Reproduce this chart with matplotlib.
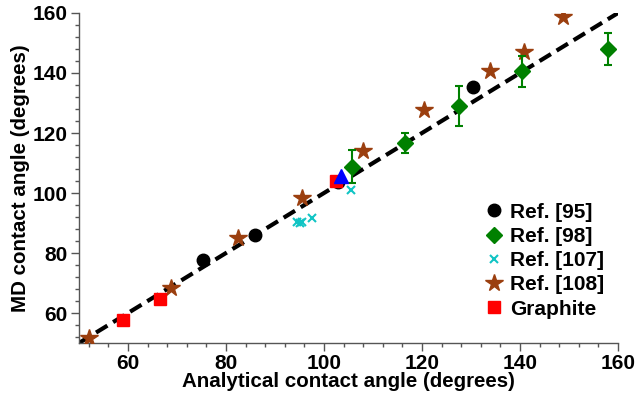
import matplotlib.pyplot as plt
from matplotlib.lines import Line2D
from matplotlib.ticker import MultipleLocator

plt.rcParams["font.family"] = ["Liberation Sans", "DejaVu Sans"]
plt.rcParams["font.weight"] = "bold"

# Data
ref95_x = [75.4, 86.0, 102.8, 130.5]
ref95_y = [77.7, 86.0, 103.8, 135.4]

ref98_x = [105.8, 116.5, 127.6, 140.5, 157.9]
ref98_y = [108.8, 116.6, 129.0, 140.6, 148.0]
ref98_err = [5.5, 3.4, 6.7, 5.2, 5.3]

ref107_x = [94.4, 95.0, 95.6, 97.5, 105.6]
ref107_y = [90.5, 90.0, 90.3, 91.6, 101.0]

ref108_x = [52.0, 68.8, 82.5, 95.5, 108.0, 120.4, 133.8, 140.9, 148.7]
ref108_y = [51.6, 68.2, 85.1, 98.2, 114.0, 127.7, 140.8, 147.1, 158.8]

graphite_x = [58.9, 66.6, 102.4]
graphite_y = [57.7, 64.7, 104.0]

extra_x = [103.4]
extra_y = [105.8]

line_x = [50, 160]
line_y = [50, 160]

GREEN = "green"
CYAN = "#11c4c4"
BROWN = "#9b3f0f"

fig = plt.figure(figsize=(6.38, 4.01), dpi=100)
ax = fig.add_axes([0.1238, 0.1446, 0.8449, 0.823])

ax.plot(line_x, line_y, "k--", lw=3, dashes=(3.2, 1.6), zorder=2)

ax.plot(ref95_x, ref95_y, "o", color="black", ms=9, ls="none", zorder=3)
ax.errorbar(ref98_x, ref98_y, yerr=ref98_err, fmt="D", color=GREEN,
            ms=8, capsize=3, elinewidth=1.5, capthick=1.5, zorder=4)
ax.plot(ref107_x, ref107_y, "x", color=CYAN, ms=6, mew=1.5,
        ls="none", zorder=3)
ax.plot(ref108_x, ref108_y, "*", color=BROWN, ms=13, ls="none", zorder=3)
ax.plot(graphite_x, graphite_y, "s", color="red", ms=8, ls="none", zorder=3)
ax.plot(extra_x, extra_y, "^", color="blue", ms=10, ls="none", zorder=5)

ax.set_xlim(50, 160)
ax.set_ylim(50, 160)
ax.xaxis.set_minor_locator(MultipleLocator(4))
ax.yaxis.set_minor_locator(MultipleLocator(4))
ax.set_xticks([60, 80, 100, 120, 140, 160])
ax.set_yticks([60, 80, 100, 120, 140, 160])

for side in ["top", "right"]:
    ax.spines[side].set_visible(False)
for side in ["left", "bottom"]:
    ax.spines[side].set_color("#555555")
    ax.spines[side].set_linewidth(1.0)

ax.tick_params(which="major", length=6, width=1, color="#555555",
               labelsize=15, pad=2)
ax.tick_params(which="minor", length=3, width=1, color="#555555")

ax.set_xlabel("Analytical contact angle (degrees)", fontsize=14.8,
              fontweight="bold", labelpad=-1)
ax.set_ylabel("MD contact angle (degrees)", fontsize=14.8,
              fontweight="bold", labelpad=2)

handles = [
    Line2D([], [], marker="o", color="black", ms=9, ls="none"),
    Line2D([], [], marker="D", color=GREEN, ms=8, ls="none"),
    Line2D([], [], marker="x", color=CYAN, ms=6, mew=1.5, ls="none"),
    Line2D([], [], marker="*", color=BROWN, ms=13, ls="none"),
    Line2D([], [], marker="s", color="red", ms=8, ls="none"),
]
labels = ["Ref. [95]", "Ref. [98]", "Ref. [107]", "Ref. [108]", "Graphite"]

leg = ax.legend(handles, labels, loc="upper left",
                bbox_to_anchor=(0.747, 0.425), frameon=False,
                fontsize=15, handletextpad=0.15, labelspacing=0.25,
                handlelength=1.2, borderaxespad=0, borderpad=0)
for text in leg.get_texts():
    text.set_fontweight("bold")

fig.savefig("out.png", dpi=100)
